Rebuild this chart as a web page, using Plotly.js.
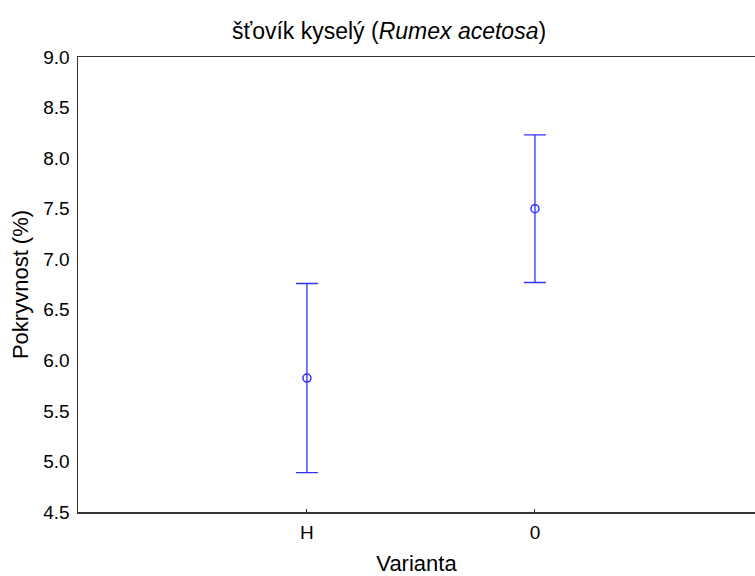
<!DOCTYPE html>
<html>
<head>
<meta charset="utf-8">
<script src="https://cdn.plot.ly/plotly-3.0.1.min.js"></script>
<style>html,body{margin:0;padding:0;background:#fff;}#chart{width:755px;height:576px;}</style>
</head>
<body>
<div id="chart"></div>
<script>
const categories = ["H", "0"];
const means = [5.825, 7.5];
const errors = [0.935, 0.73];
const yTicks = [4.5, 5.0, 5.5, 6.0, 6.5, 7.0, 7.5, 8.0, 8.5, 9.0];
const yTickLabels = ["4.5", "5.0", "5.5", "6.0", "6.5", "7.0", "7.5", "8.0", "8.5", "9.0"];

const blue = "rgb(50,50,255)";
const trace = {
  type: "scatter",
  mode: "markers",
  x: categories,
  y: means,
  marker: {symbol: "circle-open", size: 8, color: blue, line: {width: 1.5, color: blue}},
  error_y: {type: "data", array: errors, visible: true, color: blue, thickness: 1.3, width: 11},
  showlegend: false,
  hoverinfo: "none"
};

const layout = {
  width: 755, height: 576,
  margin: {l: 78, r: 0, t: 57, b: 64},
  paper_bgcolor: "#fff", plot_bgcolor: "#fff",
  font: {family: "Liberation Sans, Arial, sans-serif", color: "#000"},
  title: {text: "šťovík kyselý (<i>Rumex acetosa</i>)", font: {size: 23, color: "#000"},
          x: 232 / 755, xanchor: "left", xref: "container", y: 1 - 31 / 576, yanchor: "middle"},
  xaxis: {
    type: "category", range: [-1.004, 1.965],
    showgrid: false, zeroline: false,
    showline: true, linecolor: "#333", linewidth: 1.5, mirror: true,
    ticks: "inside", ticklen: 3, tickcolor: "#333", ticklabelstandoff: 3,
    tickfont: {size: 19, color: "#000"},
    title: {text: "Varianta", font: {size: 22, color: "#000"}, standoff: 16}
  },
  yaxis: {
    range: [4.5, 9.0], tickvals: yTicks, ticktext: yTickLabels,
    showgrid: false, zeroline: false,
    showline: true, linecolor: "#333", linewidth: 1.5,
    ticks: "", ticklabelstandoff: 3,
    tickfont: {size: 19, color: "#000"},
    title: {text: "Pokryvnost (%)", font: {size: 22, color: "#000"}, standoff: 8}
  }
};

Plotly.newPlot("chart", [trace], layout, {displayModeBar: false, staticPlot: true});
</script>
</body>
</html>
